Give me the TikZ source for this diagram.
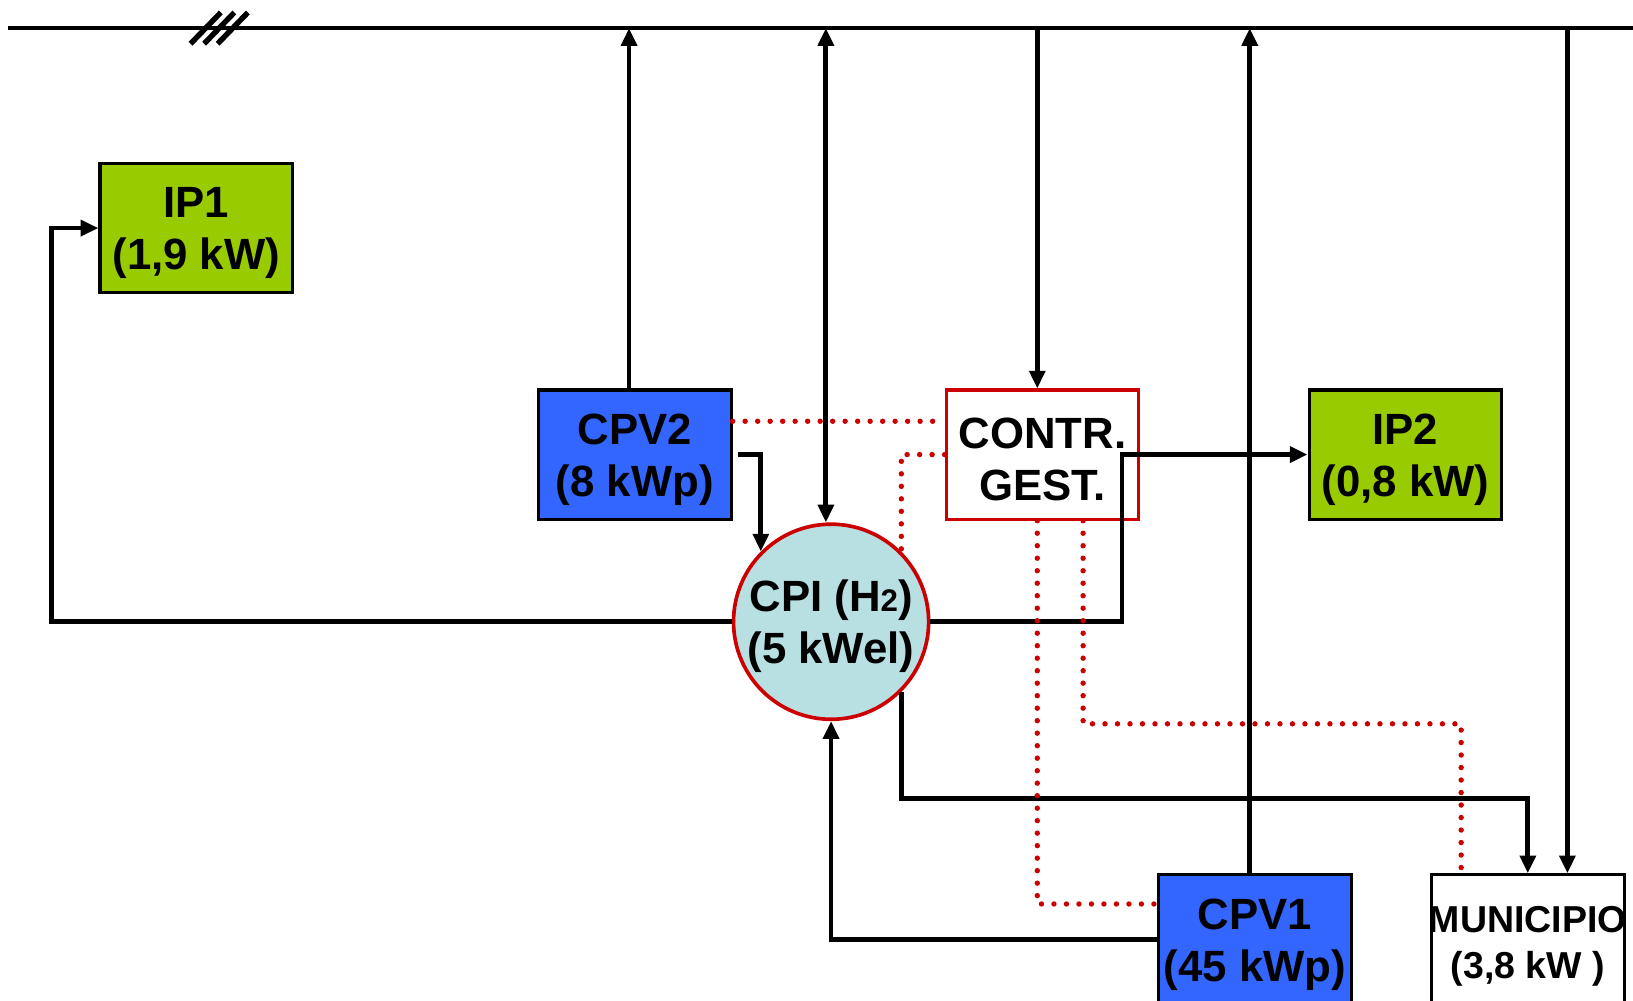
\documentclass[tikz,border=0pt]{standalone}
\usepackage{fontspec}
\setmainfont{Liberation Sans}
\usetikzlibrary{arrows.meta}
\definecolor{ipgreen}{HTML}{99CC00}
\definecolor{pvblue}{HTML}{3366FF}
\definecolor{ctrred}{HTML}{CC0000}
\definecolor{cpifill}{HTML}{B8E0E3}
\newcommand\toprl{\rule{0pt}{19.5pt}}
\begin{document}
\begin{tikzpicture}[x=0.5pt,y=-0.5pt,
  box/.style={draw=black, line width=1.5pt, minimum width=92.5pt, minimum height=62pt,
    inner sep=0pt, align=center, font=\fontsize{21}{25}\selectfont\bfseries},
  conn/.style={draw=black, line width=2.3pt},
  arr/.style={conn, -{Triangle[length=8.5pt,width=7.5pt]}},
  arrboth/.style={conn, {Triangle[length=8.5pt,width=7.5pt]}-{Triangle[length=8.5pt,width=7.5pt]}},
  dotl/.style={draw=ctrred, line width=2.6pt, line cap=round, dash pattern=on 0pt off 6pt}]
\useasboundingbox (0,0) rectangle (1568,961);

% bus
\coordinate (busL) at (8,27);
\coordinate (busR) at (1568,27);
\draw[conn, line width=2.1pt] (busL) -- (busR);
\foreach \dx in {0,13,26} {
  \draw[conn, line width=2.6pt] (183+\dx,42) -- (212+\dx,12);
}

% nodes
\node[box, fill=ipgreen] (IP1) at (188.5,219) {\toprl IP1\\(1,9 kW)};
\node[box, fill=pvblue] (CPV2) at (609.5,436.5) {\toprl CPV2\\(8 kWp)};
\node[box, draw=ctrred, fill=white] (CONTR) at (1001,436.5) {\toprl CONTR.\\GEST.};
\node[box, fill=ipgreen] (IP2) at (1349.5,436.5) {\toprl IP2\\(0,8 kW)};
\node[circle, draw=ctrred, line width=1.75pt, fill=cpifill, minimum size=93pt, inner sep=0pt,
  align=center, font=\fontsize{21}{25}\selectfont\bfseries] (CPI) at (798,597)
  {\toprl CPI (H{\fontsize{15}{15}\selectfont 2})\\(5 kWel)};
\node[box, fill=pvblue] (CPV1) at (1205,902) {\toprl CPV1\\(45 kWp)};
\node[box, fill=white, font=\fontsize{18}{22}\selectfont\bfseries] (MUN) at (1467,902)
  {\rule{0pt}{19pt}\makebox[0pt]{MUNICIPIO}\\(3,8 kW )};

% black connectors
\draw[arr] (CPI.west) -- ++(-653,0) |- (IP1.west);
\draw[arr] ([xshift=-2.75pt]CPV2.north) -- ([xshift=-2.75pt]CPV2.north |- busL);
\draw[arr] ([xshift=2.5pt]CPV2.east) -| (CPI.north west);
\draw[arrboth] ([xshift=-2.5pt]CPI.north) -- ([xshift=-2.5pt]CPI.north |- busL);
\draw[arr] ([xshift=-2.5pt]CONTR.north |- busL) -- ([xshift=-2.5pt]CONTR.north);
\draw[arr] (CPI.east) -- ++(184,0) |- (IP2.west);
\draw[arr] ([xshift=-2.5pt]CPV1.north) -- ([xshift=-2.5pt]CPV1.north |- busL);
\draw[arr] ([xshift=19pt]MUN.north |- busL) -- ([xshift=19pt]MUN.north);
\draw[arr] (CPI.south east) -- ++(0,102) -| (MUN.north);
\draw[arr] (CPV1.west) -| (CPI.south);

% red dotted control links
\draw[dotl] ([yshift=16pt]CPV2.east) -- ([yshift=16pt]CONTR.west);
\draw[dotl] (CONTR.west) -| (CPI.north east);
\draw[dotl] ([xshift=-2.5pt]CONTR.south) |- ([yshift=17pt]CPV1.west);
\draw[dotl] ([xshift=19.5pt]CONTR.south) -- ++(0,195) -| ([xshift=-32pt]MUN.north);
\end{tikzpicture}
\end{document}
